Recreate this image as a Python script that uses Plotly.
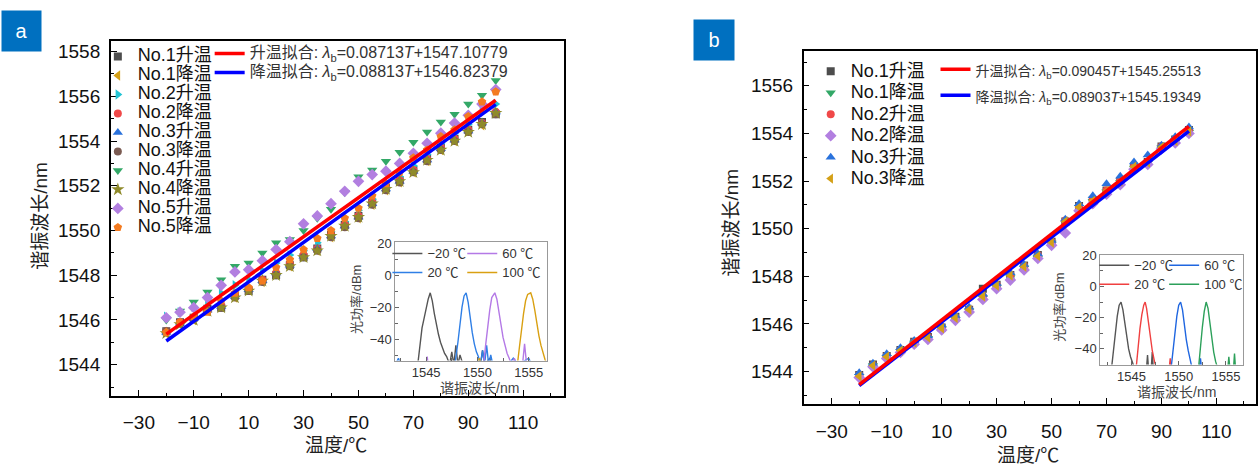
import plotly.graph_objects as go

W, H = 1258, 465

# ---------------- Panel a data ----------------
temps = [-20, -15, -10, -5, 0, 5, 10, 15, 20, 25, 30, 35, 40, 45, 50, 55, 60, 65, 70, 75, 80, 85, 90, 95, 100]

a_no1_up = [1545.5, 1545.9, 1546.1, 1546.5, 1546.55, 1547.1, 1547.3, 1547.8, 1548.0, 1548.45, 1548.8, 1549.2, 1549.8, 1550.25, 1550.65, 1551.25, 1551.9, 1552.25, 1552.7, 1553.2, 1553.7, 1554.1, 1554.5, 1554.85, 1555.2]
a_no1_dn = [1545.4, 1545.8, 1546.0, 1546.4, 1546.6, 1547.0, 1547.35, 1547.7, 1548.05, 1548.4, 1548.85, 1549.1, 1549.7, 1550.2, 1550.55, 1551.15, 1551.8, 1552.15, 1552.6, 1553.1, 1553.6, 1554.0, 1554.45, 1554.7, 1555.25]
a_no2_up = [1546.15, 1546.35, 1546.6, 1546.9, 1547.2, 1547.55, 1547.8, 1548.2, 1548.55, 1548.9, 1549.1, 1549.45, 1549.95, 1550.4, 1550.9, 1551.4, 1551.95, 1552.4, 1552.9, 1553.4, 1553.9, 1554.35, 1554.75, 1555.3, 1555.65]
a_no2_dn = [1545.5, 1545.9, 1546.1, 1546.45, 1546.65, 1547.1, 1547.4, 1547.8, 1548.1, 1548.5, 1548.9, 1549.2, 1549.8, 1550.25, 1550.65, 1551.25, 1551.9, 1552.25, 1552.7, 1553.2, 1553.7, 1554.1, 1554.5, 1554.8, 1555.3]
a_no3_up = [1545.45, 1545.85, 1546.05, 1546.45, 1546.6, 1547.05, 1547.35, 1547.75, 1548.1, 1548.45, 1548.85, 1549.2, 1549.75, 1550.2, 1550.6, 1551.2, 1551.85, 1552.2, 1552.65, 1553.15, 1553.65, 1554.05, 1554.45, 1554.8, 1555.3]
a_no3_dn = [1545.5, 1545.85, 1546.05, 1546.4, 1546.55, 1547.0, 1547.3, 1547.7, 1548.0, 1548.4, 1548.8, 1549.1, 1549.7, 1550.15, 1550.55, 1551.15, 1551.8, 1552.15, 1552.6, 1553.1, 1553.6, 1554.0, 1554.4, 1554.75, 1555.2]
a_no4_up = [1546.0, 1546.4, 1546.8, 1547.25, 1547.8, 1548.4, 1548.55, 1549.0, 1549.45, 1549.6, 1550.0, 1550.55, 1550.95, 1551.7, 1552.4, 1552.7, 1553.1, 1553.5, 1553.95, 1554.4, 1554.85, 1555.2, 1555.65, 1556.05, 1556.7]
a_no4_dn = [1545.4, 1545.8, 1546.0, 1546.4, 1546.55, 1547.0, 1547.3, 1547.75, 1548.0, 1548.4, 1548.8, 1549.1, 1549.75, 1550.2, 1550.6, 1551.2, 1551.85, 1552.2, 1552.6, 1553.15, 1553.6, 1554.0, 1554.4, 1554.75, 1555.25]
a_no5_up = [1546.1, 1546.35, 1546.55, 1547.0, 1547.55, 1548.15, 1548.25, 1548.65, 1549.15, 1549.5, 1550.3, 1550.65, 1551.2, 1551.75, 1552.2, 1552.5, 1552.65, 1553.0, 1553.45, 1553.9, 1554.35, 1554.8, 1555.15, 1555.65, 1556.3]
a_no5_dn = [1545.45, 1545.9, 1546.15, 1546.35, 1546.85, 1547.2, 1547.45, 1547.75, 1548.35, 1548.7, 1549.15, 1549.65, 1550.0, 1550.55, 1551.0, 1551.55, 1552.1, 1552.6, 1553.25, 1553.6, 1554.2, 1554.5, 1555.1, 1555.75, 1556.2]

fit_T = [-20, 100]
a_rise_fit = [1545.365, 1555.821]
a_fall_fit = [1545.061, 1555.637]

# inset a spectra
a_m20_wl = [1542.0, 1543.5, 1544.2, 1544.4, 1544.6, 1544.8, 1545.0, 1545.2, 1545.4, 1545.6, 1545.8, 1546.0, 1546.2, 1546.4, 1546.6, 1546.8, 1547.0, 1547.3, 1547.5, 1547.7, 1547.9, 1548.1, 1548.3, 1548.6, 1550.3, 1550.5, 1550.7, 1551.2, 1551.4, 1552.5]
a_m20_p = [-56, -56, -55, -44, -33, -27, -20, -15, -11, -16, -24, -31, -37, -42, -46, -49, -51, -56, -48, -56, -44, -56, -50, -56, -56, -47, -56, -52, -56, -56]
a_20_wl = [1542.0, 1542.3, 1542.5, 1543.0, 1547.8, 1548.1, 1548.3, 1548.5, 1548.7, 1548.9, 1549.1, 1549.3, 1549.5, 1549.7, 1549.9, 1550.1, 1550.3, 1550.5, 1550.7, 1550.9, 1551.1, 1551.3, 1551.5, 1552.0, 1553.0, 1553.5, 1554.0, 1555.0, 1555.3, 1556.0]
a_20_p = [-56, -52, -56, -56, -56, -42, -30, -20, -13, -11, -17, -27, -36, -43, -48, -51, -56, -47, -56, -44, -56, -50, -56, -56, -56, -52, -56, -52, -56, -56]
a_60_wl = [1545.0, 1545.1, 1545.2, 1550.6, 1550.8, 1551.0, 1551.2, 1551.4, 1551.7, 1551.9, 1552.1, 1552.3, 1552.5, 1552.7, 1552.9, 1553.1, 1553.3, 1553.6, 1553.8, 1554.4, 1554.6, 1554.8, 1556.5]
a_60_p = [-56, -51, -56, -56, -44, -32, -22, -14, -11, -15, -22, -31, -39, -45, -49, -52, -56, -52, -56, -56, -43, -56, -56]
a_100_wl = [1550.0, 1550.2, 1550.4, 1553.9, 1554.1, 1554.3, 1554.5, 1554.7, 1554.9, 1555.2, 1555.4, 1555.6, 1555.8, 1556.0, 1556.2, 1556.4, 1556.6, 1556.8]
a_100_p = [-56, -52, -56, -56, -45, -34, -24, -16, -12, -11, -15, -22, -31, -38, -44, -49, -53, -56]

# ---------------- Panel b data ----------------
b_no1_up = [1543.85, 1544.3, 1544.65, 1544.9, 1545.25, 1545.45, 1545.85, 1546.3, 1546.6, 1547.48, 1547.65, 1548.05, 1548.45, 1548.9, 1549.45, 1550.3, 1550.95, 1551.2, 1551.6, 1552.0, 1552.6, 1552.8, 1553.45, 1553.75, 1554.15]
b_no1_dn = [1543.8, 1544.25, 1544.6, 1544.85, 1545.2, 1545.4, 1545.8, 1546.2, 1546.55, 1547.1, 1547.55, 1547.95, 1548.35, 1548.76, 1549.4, 1550.25, 1550.9, 1551.15, 1551.55, 1551.95, 1552.55, 1552.75, 1553.4, 1553.65, 1554.05]
b_no2_up = [1543.86, 1544.28, 1544.66, 1544.9, 1545.24, 1545.45, 1545.86, 1546.28, 1546.62, 1547.17, 1547.65, 1548.07, 1548.44, 1548.9, 1549.45, 1550.34, 1550.95, 1551.2, 1551.6, 1552.0, 1552.62, 1552.8, 1553.45, 1553.7, 1554.1]
b_no2_dn = [1543.75, 1544.2, 1544.55, 1544.8, 1545.15, 1545.35, 1545.75, 1546.15, 1546.5, 1547.03, 1547.48, 1547.84, 1548.27, 1548.75, 1549.3, 1549.82, 1550.75, 1551.05, 1551.45, 1551.85, 1552.5, 1552.7, 1553.35, 1553.6, 1554.0]
b_no3_up = [1543.95, 1544.35, 1544.75, 1545.0, 1545.3, 1545.5, 1545.95, 1546.35, 1546.7, 1547.25, 1547.7, 1548.15, 1548.5, 1548.95, 1549.5, 1550.4, 1551.05, 1551.38, 1551.89, 1552.2, 1552.8, 1553.1, 1553.5, 1553.86, 1554.27]
b_no3_dn = [1543.8, 1544.25, 1544.62, 1544.88, 1545.22, 1545.43, 1545.82, 1546.25, 1546.6, 1547.15, 1547.6, 1548.03, 1548.4, 1548.85, 1549.42, 1550.3, 1550.9, 1551.17, 1551.58, 1551.98, 1552.6, 1552.78, 1553.42, 1553.68, 1554.08]

b_rise_fit = [1543.446, 1554.300]
b_fall_fit = [1543.413, 1554.097]

b_m20_wl = [1542.9, 1543.1, 1543.3, 1543.5, 1543.7, 1543.9, 1544.1, 1544.3, 1544.5, 1544.7, 1544.9, 1545.1, 1545.3, 1546.6, 1546.7, 1546.8, 1547.1, 1547.2, 1547.3, 1548.0]
b_m20_p = [-52, -40, -29, -19, -12, -10, -15, -24, -33, -40, -45, -49, -52, -52, -44, -52, -52, -42, -52, -52]
b_20_wl = [1545.5, 1545.7, 1545.9, 1546.1, 1546.3, 1546.45, 1546.6, 1546.8, 1547.0, 1547.2, 1547.4, 1547.6, 1549.0, 1549.1, 1549.2]
b_20_p = [-52, -38, -27, -18, -12, -10, -14, -23, -33, -41, -47, -52, -52, -46, -52]
b_60_wl = [1549.2, 1549.4, 1549.6, 1549.8, 1550.0, 1550.2, 1550.4, 1550.6, 1550.8, 1551.0, 1551.2, 1551.4, 1552.2, 1552.3, 1552.4]
b_60_p = [-52, -40, -29, -19, -12, -10, -15, -25, -34, -41, -47, -52, -52, -46, -52]
b_100_wl = [1552.1, 1552.3, 1552.5, 1552.7, 1552.9, 1553.1, 1553.3, 1553.5, 1553.7, 1553.9, 1554.1, 1555.2, 1555.3, 1555.4, 1555.8, 1555.9, 1556.0]
b_100_p = [-52, -38, -26, -16, -10, -14, -24, -34, -42, -48, -52, -52, -45, -52, -52, -43, -52]

FONT = "Liberation Sans, Arial, Noto Sans CJK SC"

def px(x):
    return x / W

def py(y):
    return 1 - y / H

def sp(text, size):
    return '<span style="font-size:%dpx">%s</span>' % (size, text)

fig = go.Figure()

a_series = [
    ("No.1升温", a_no1_up, "square", "#4d4d4d", 8),
    ("No.1降温", a_no1_dn, "triangle-left", "#d4a017", 9),
    ("No.2升温", a_no2_up, "triangle-right", "#22c4d4", 9),
    ("No.2降温", a_no2_dn, "circle", "#f04848", 8),
    ("No.3升温", a_no3_up, "triangle-up", "#2a72dc", 9),
    ("No.3降温", a_no3_dn, "circle", "#7b5b52", 8),
    ("No.4升温", a_no4_up, "triangle-down", "#33a867", 9),
    ("No.4降温", a_no4_dn, "star", "#8f8a2a", 10),
    ("No.5升温", a_no5_up, "diamond", "#b27fe0", 9),
    ("No.5降温", a_no5_dn, "pentagon", "#f47b20", 9),
]
for name, vals, sym, col, sz in a_series:
    fig.add_trace(go.Scatter(x=temps, y=vals, mode="markers", name=sp(name, 18),
                             marker=dict(symbol=sym, color=col, size=sz, line=dict(width=0)),
                             xaxis="x", yaxis="y", legend="legend"))

fig.add_trace(go.Scatter(x=fit_T, y=a_fall_fit, mode="lines", legendrank=2,
                         name=sp("降温拟合: <i>λ</i><sub>b</sub>=0.08813<i>T</i>+1546.82379", 16),
                         line=dict(color="#0000ff", width=3.5), xaxis="x", yaxis="y", legend="legend2"))
fig.add_trace(go.Scatter(x=fit_T, y=a_rise_fit, mode="lines", legendrank=1,
                         name=sp("升温拟合: <i>λ</i><sub>b</sub>=0.08713<i>T</i>+1547.10779", 16),
                         line=dict(color="#ff0000", width=3.5), xaxis="x", yaxis="y", legend="legend2"))

a_spec = [
    ("−20 ℃", a_m20_wl, a_m20_p, "#555555", "legend3"),
    ("20 ℃", a_20_wl, a_20_p, "#2f7fe6", "legend3"),
    ("60 ℃", a_60_wl, a_60_p, "#b479e6", "legend4"),
    ("100 ℃", a_100_wl, a_100_p, "#d9a012", "legend4"),
]
for name, wl, p, col, lg in a_spec:
    fig.add_trace(go.Scatter(x=wl, y=p, mode="lines", name=sp(name, 13),
                             line=dict(color=col, width=1.4), xaxis="x2", yaxis="y2", legend=lg))

b_series = [
    ("No.1升温", b_no1_up, "square", "#4d4d4d", 8),
    ("No.1降温", b_no1_dn, "triangle-down", "#33a867", 9),
    ("No.2升温", b_no2_up, "circle", "#f04848", 8),
    ("No.2降温", b_no2_dn, "diamond", "#b27fe0", 9),
    ("No.3升温", b_no3_up, "triangle-up", "#2a72dc", 9),
    ("No.3降温", b_no3_dn, "triangle-left", "#d4a017", 9),
]
for name, vals, sym, col, sz in b_series:
    fig.add_trace(go.Scatter(x=temps, y=vals, mode="markers", name=sp(name, 18),
                             marker=dict(symbol=sym, color=col, size=sz, line=dict(width=0)),
                             xaxis="x3", yaxis="y3", legend="legend5"))

fig.add_trace(go.Scatter(x=fit_T, y=b_fall_fit, mode="lines", legendrank=2,
                         name=sp("降温拟合: <i>λ</i><sub>b</sub>=0.08903<i>T</i>+1545.19349", 14),
                         line=dict(color="#0000ff", width=3.5), xaxis="x3", yaxis="y3", legend="legend6"))
fig.add_trace(go.Scatter(x=fit_T, y=b_rise_fit, mode="lines", legendrank=1,
                         name=sp("升温拟合: <i>λ</i><sub>b</sub>=0.09045<i>T</i>+1545.25513", 14),
                         line=dict(color="#ff0000", width=3.5), xaxis="x3", yaxis="y3", legend="legend6"))

b_spec = [
    ("−20 ℃", b_m20_wl, b_m20_p, "#555555", "legend7"),
    ("20 ℃", b_20_wl, b_20_p, "#f04040", "legend7"),
    ("60 ℃", b_60_wl, b_60_p, "#1f66e0", "legend8"),
    ("100 ℃", b_100_wl, b_100_p, "#2ca05a", "legend8"),
]
for name, wl, p, col, lg in b_spec:
    fig.add_trace(go.Scatter(x=wl, y=p, mode="lines", name=sp(name, 13),
                             line=dict(color=col, width=1.4), xaxis="x4", yaxis="y4", legend=lg))

main_ax = dict(showline=True, linecolor="black", linewidth=1.5, mirror=True, showgrid=False,
               zeroline=False, ticks="inside", ticklen=6, tickwidth=1.3, tickcolor="black",
               tickfont=dict(size=19, color="#111", family=FONT))
inset_ax = dict(showline=True, linecolor="#999999", linewidth=1, mirror=True, showgrid=False,
                zeroline=False, ticks="inside", ticklen=4, tickwidth=1, tickcolor="#666",
                tickfont=dict(size=13, color="#333", family=FONT))

def leg(x, y, fs, color="#111"):
    return dict(x=px(x), y=py(y), xref="paper", yref="paper", xanchor="left", yanchor="top",
                bgcolor="rgba(0,0,0,0)", borderwidth=0, font=dict(size=fs, color=color, family=FONT),
                itemsizing="trace", traceorder="normal", tracegroupgap=0)

fig.update_layout(
    width=W, height=H, margin=dict(l=0, r=0, t=0, b=0),
    paper_bgcolor="white", plot_bgcolor="white",
    font=dict(family=FONT, color="#111"),
    showlegend=True,
    xaxis=dict(main_ax, domain=[px(111), px(565)], range=[-40.2, 124.9], anchor="y",
               tick0=-30, dtick=20, ticklabelstandoff=8,
               minor=dict(ticks="inside", ticklen=3.5, dtick=10, tick0=-30, tickcolor="black")),
    yaxis=dict(main_ax, domain=[py(395), py(35)], range=[1542.6, 1558.45], anchor="x",
               tick0=1544, dtick=2, ticklabelstandoff=5,
               minor=dict(ticks="inside", ticklen=3.5, dtick=1, tickcolor="black")),
    xaxis2=dict(inset_ax, domain=[px(396), px(548)], range=[1542.0, 1556.8], anchor="y2",
                tick0=1545, dtick=5, ticklabelstandoff=0,
                minor=dict(ticks="inside", ticklen=2.5, dtick=2.5, tickcolor="#666")),
    yaxis2=dict(inset_ax, domain=[py(359), py(239)], range=[-53.5, 20.6], anchor="x2",
                tick0=-40, dtick=20, minor=dict(ticks="inside", ticklen=2.5, dtick=10, tickcolor="#666")),
    xaxis3=dict(main_ax, domain=[px(805), 1.0], range=[-40.2, 124.4], anchor="y3",
                tick0=-30, dtick=20, ticklabelstandoff=10,
                minor=dict(ticks="inside", ticklen=3.5, dtick=10, tick0=-30, tickcolor="black")),
    yaxis3=dict(main_ax, domain=[py(403), py(45)], range=[1542.64, 1557.45], anchor="x3",
                tick0=1544, dtick=2, ticklabelstandoff=5,
                minor=dict(ticks="inside", ticklen=3.5, dtick=1, tickcolor="black")),
    xaxis4=dict(inset_ax, domain=[px(1102), px(1245)], range=[1541.7, 1556.8], anchor="y4",
                tick0=1545, dtick=5, ticklabelstandoff=0,
                minor=dict(ticks="inside", ticklen=2.5, dtick=2.5, tickcolor="#666")),
    yaxis4=dict(inset_ax, domain=[py(363), py(252)], range=[-50, 20], anchor="x4",
                tick0=-40, dtick=20, minor=dict(ticks="inside", ticklen=2.5, dtick=10, tickcolor="#666")),
    legend=leg(98, 35.5, 12),
    legend2=leg(210, 32.5, 12, "#333"),
    legend3=leg(388, 235.5, 12, "#333"),
    legend4=leg(463, 235.5, 12, "#333"),
    legend5=leg(812, 49.3, 14.2),
    legend6=leg(937, 45, 17.7, "#333"),
    legend7=leg(1096, 247.5, 12, "#333"),
    legend8=leg(1166, 247.5, 12, "#333"),
)

ann = []
# panel tags
ann.append(dict(x=px(21.5), y=py(24), xref="paper", yref="paper", text="a", showarrow=False,
                font=dict(size=20, color="white", family=FONT), bgcolor="#0070c0", width=37, height=38,
                xanchor="center", yanchor="middle"))
ann.append(dict(x=px(715), y=py(34), xref="paper", yref="paper", text="b", showarrow=False,
                font=dict(size=20, color="white", family=FONT), bgcolor="#0070c0", width=38, height=38,
                xanchor="center", yanchor="middle"))
# axis titles
ann.append(dict(x=px(41), y=py(212), xref="paper", yref="paper", text="谐振波长/nm", textangle=-90,
                showarrow=False, font=dict(size=19, color="#222", family=FONT), xanchor="center", yanchor="middle"))
ann.append(dict(x=px(337), y=py(445), xref="paper", yref="paper", text="温度/℃",
                showarrow=False, font=dict(size=19, color="#222", family=FONT), xanchor="center", yanchor="middle"))
ann.append(dict(x=px(733), y=py(219), xref="paper", yref="paper", text="谐振波长/nm", textangle=-90,
                showarrow=False, font=dict(size=19, color="#222", family=FONT), xanchor="center", yanchor="middle"))
ann.append(dict(x=px(1030), y=py(455), xref="paper", yref="paper", text="温度/℃",
                showarrow=False, font=dict(size=19, color="#222", family=FONT), xanchor="center", yanchor="middle"))
# inset titles
ann.append(dict(x=px(480), y=py(386.5), xref="paper", yref="paper", text="谐振波长/nm",
                showarrow=False, font=dict(size=14, color="#444", family=FONT), xanchor="center", yanchor="middle"))
ann.append(dict(x=px(357), y=py(297), xref="paper", yref="paper", text="光功率/dBm", textangle=-90,
                showarrow=False, font=dict(size=13, color="#444", family=FONT), xanchor="center", yanchor="middle"))
ann.append(dict(x=px(1178), y=py(391), xref="paper", yref="paper", text="谐振波长/nm",
                showarrow=False, font=dict(size=14, color="#444", family=FONT), xanchor="center", yanchor="middle"))
ann.append(dict(x=px(1061), y=py(305), xref="paper", yref="paper", text="光功率/dBm", textangle=-90,
                showarrow=False, font=dict(size=13, color="#444", family=FONT), xanchor="center", yanchor="middle"))
fig.update_layout(annotations=ann)

fig.write_html("out.html", config={"displayModeBar": False},
               post_script="document.body.style.margin='0';document.body.style.overflow='hidden';")
